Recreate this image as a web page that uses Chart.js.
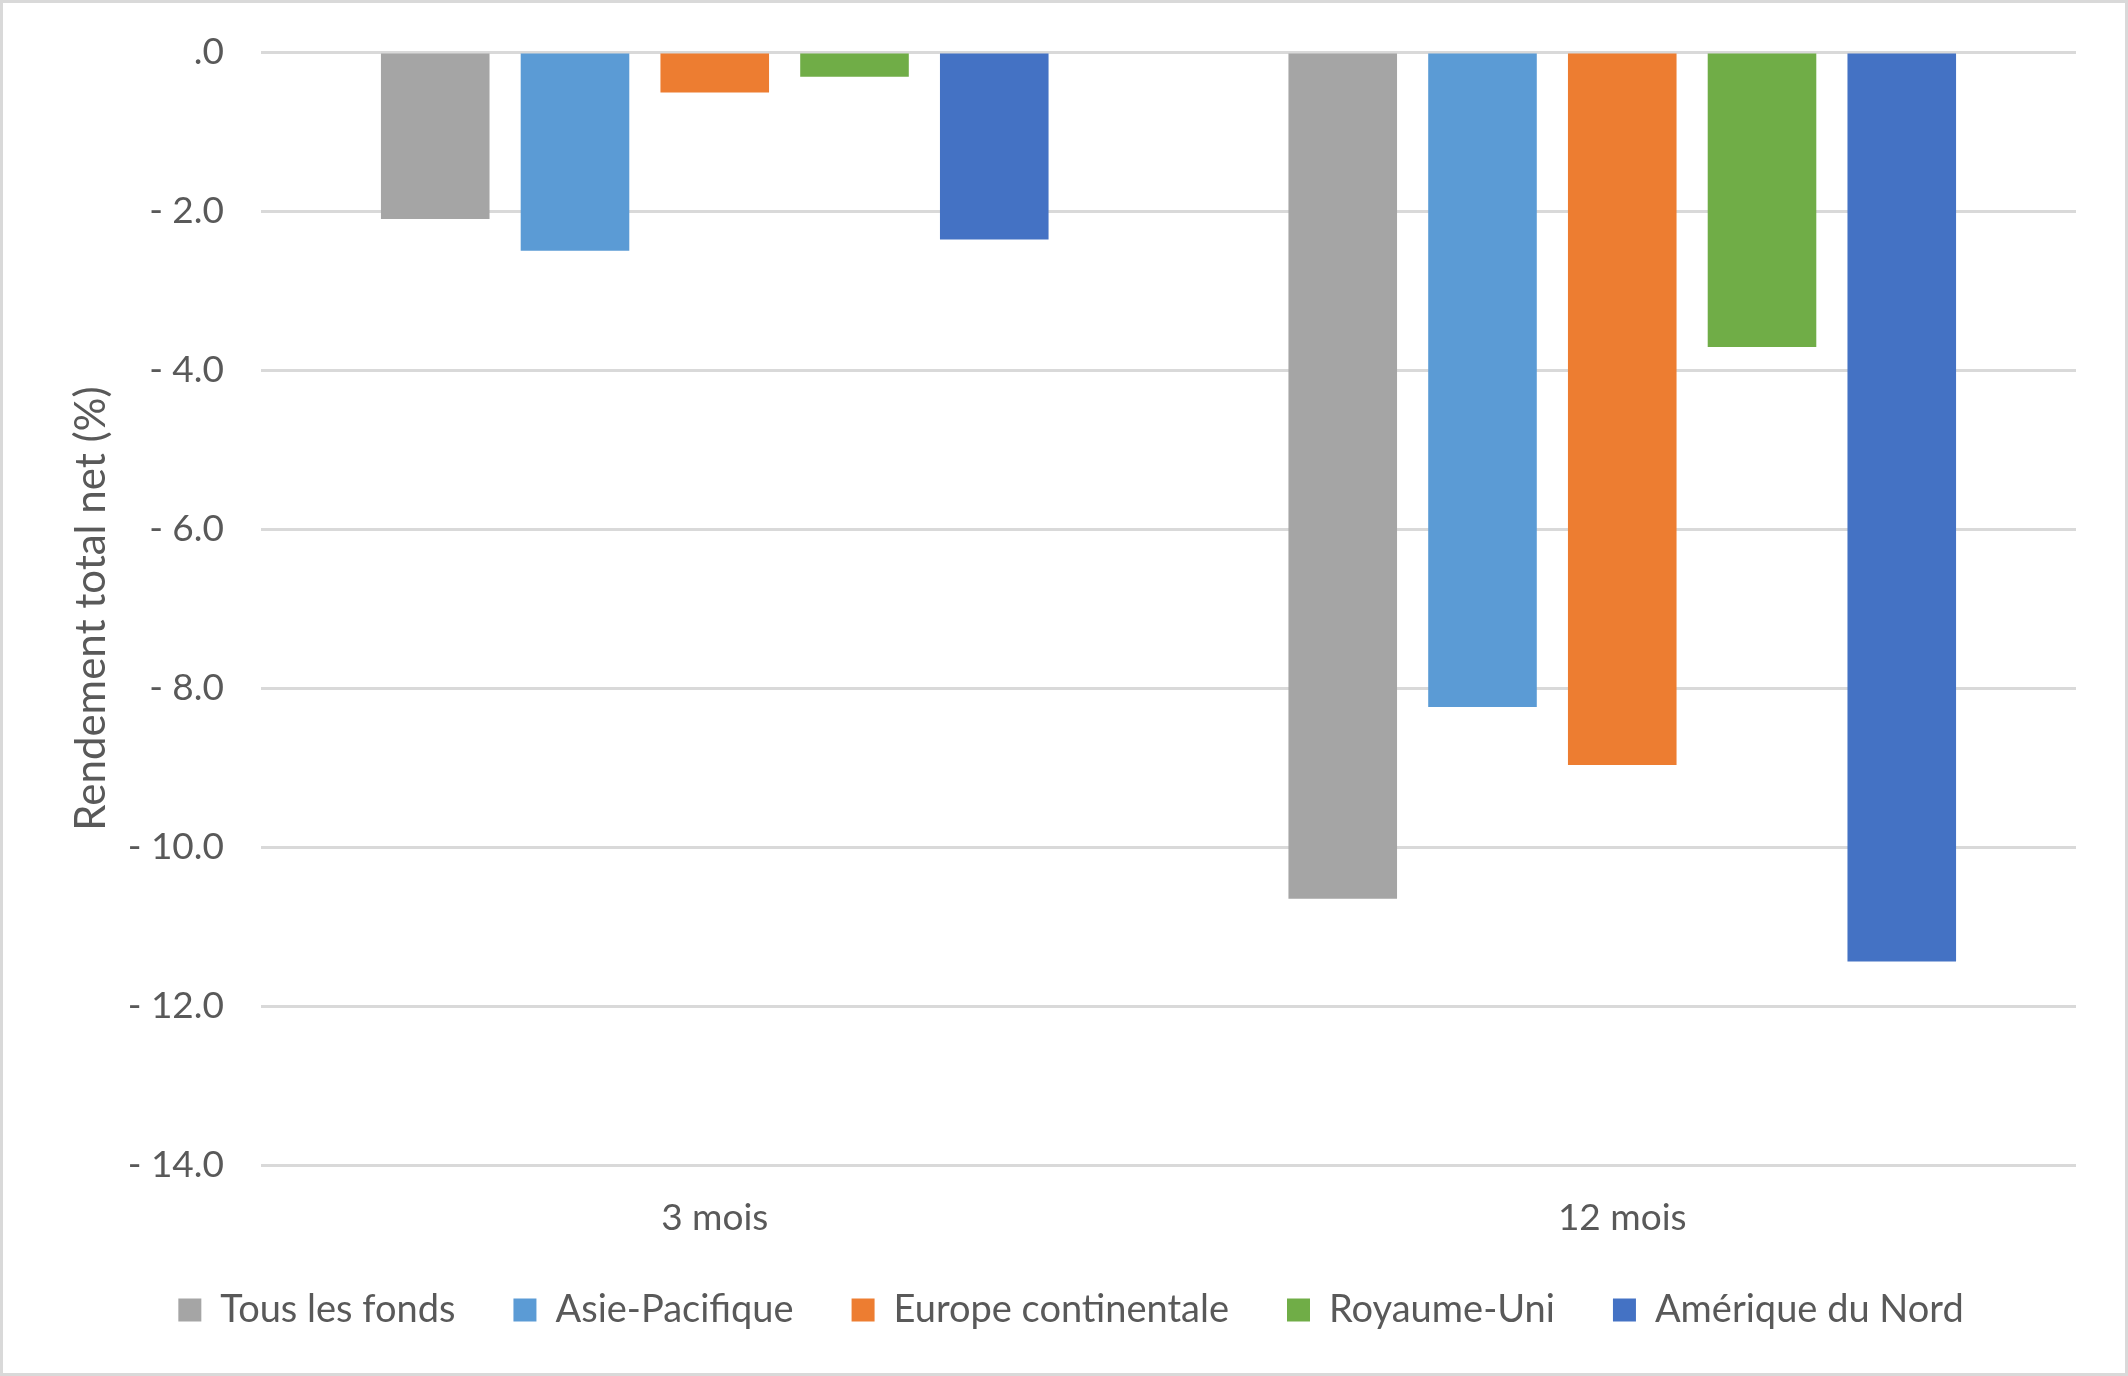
<!DOCTYPE html>
<html>
<head>
<meta charset="utf-8">
<script src="https://cdn.jsdelivr.net/npm/chart.js@4"></script>
<style>
    html, body { margin: 0; padding: 0; background: #fff; }
    #wrap {
        width: 2128px; height: 1376px;
        box-sizing: border-box;
        border: 3px solid #d9d9d9;
    }
</style>
</head>
<body>
<div id="wrap"><canvas id="chart"></canvas></div>
<script>
// categories and series (rendement total net, %)
const periodes = ['3 mois', '12 mois'];
const tousLesFonds = [-2.10, -10.65];
const asiePacifique = [-2.50, -8.24];
const europeContinentale = [-0.51, -8.97];
const royaumeUni = [-0.31, -3.71];
const ameriqueDuNord = [-2.36, -11.44];

const couleurs = ['#A5A5A5', '#5B9BD5', '#ED7D31', '#70AD47', '#4472C4'];
const police = 'Lato, "Open Sans", sans-serif';
const gris = '#595959';

function serie(label, data, color) {
    return {
        label: label,
        data: data,
        backgroundColor: color,
        borderWidth: 0,
        barPercentage: 0.777,
        categoryPercentage: 0.77
    };
}

new Chart(document.getElementById('chart'), {
    type: 'bar',
    data: {
        labels: periodes,
        datasets: [
            serie('Tous les fonds', tousLesFonds, couleurs[0]),
            serie('Asie-Pacifique', asiePacifique, couleurs[1]),
            serie('Europe continentale', europeContinentale, couleurs[2]),
            serie('Royaume-Uni', royaumeUni, couleurs[3]),
            serie('Amérique du Nord', ameriqueDuNord, couleurs[4])
        ]
    },
    options: {
        responsive: true,
        maintainAspectRatio: false,
        animation: false,
        layout: { padding: { top: 49, right: 49, left: 63, bottom: 34 } },
        plugins: {
            tooltip: { enabled: false },
            legend: {
                position: 'bottom',
                labels: {
                    font: { family: police, size: 38 },
                    color: gris,
                    boxWidth: 23,
                    boxHeight: 23,
                    padding: 58
                }
            }
        },
        scales: {
            x: {
                grid: { display: false, drawTicks: false },
                border: { display: false },
                ticks: {
                    font: { family: police, size: 37, lineHeight: 1 },
                    color: gris,
                    padding: 35
                },
                afterFit: function (scale) { scale.height = 68; }
            },
            y: {
                min: -14,
                max: 0,
                grid: { color: '#d9d9d9', lineWidth: 3, drawTicks: false },
                border: { display: false },
                ticks: {
                    stepSize: 2,
                    font: { family: police, size: 37 },
                    color: gris,
                    padding: 37,
                    callback: function (v) {
                        return v === 0 ? '.0' : '- ' + Math.abs(v).toFixed(1);
                    }
                },
                title: {
                    display: true,
                    text: 'Rendement total net (%)',
                    font: { family: police, size: 42 },
                    color: gris,
                    padding: { top: 0, bottom: 0 }
                },
                afterFit: function (scale) {
                    scale.width = 195;
                    scale.paddingTop = 0;
                    scale.paddingBottom = 0;
                }
            }
        }
    }
});
</script>
</body>
</html>
